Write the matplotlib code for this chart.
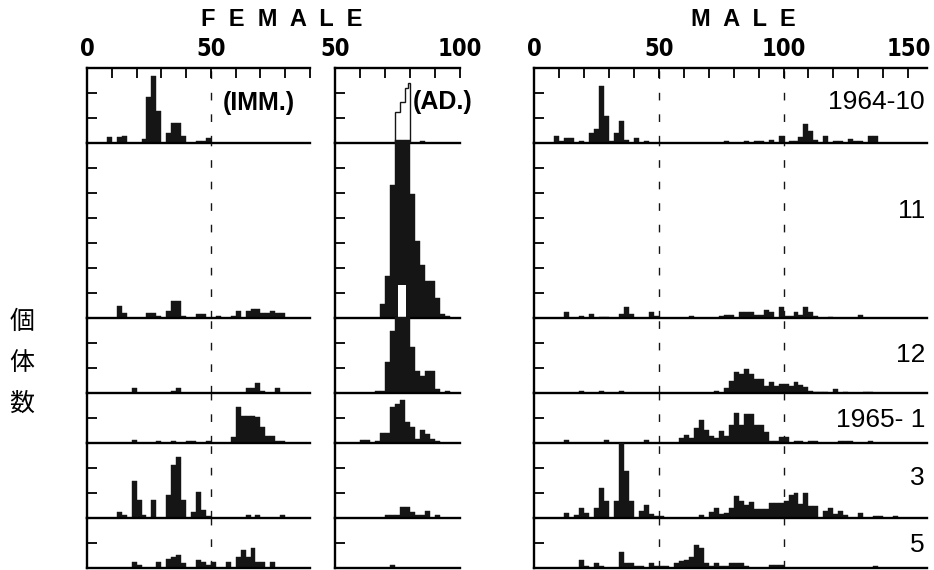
import matplotlib
matplotlib.use("Agg")
import matplotlib.pyplot as plt

# size classes: (left edge of 2-unit bin, number of individuals)
months = ["1964-10", "11", "12", "1965- 1", "3", "5"]
row_max = [12, 28, 12, 8, 12, 8]

imm_oct = [(8, 0.9), (12, 0.9), (14, 1.2), (22, 0.7), (24, 7.4), (26, 10.7), (28, 5.2),
           (32, 1.6), (34, 3.2), (36, 3.2), (38, 1.2), (44, 0.4), (46, 0.4), (48, 0.8)]
imm_nov = [(12, 2.0), (14, 0.8), (24, 0.8), (26, 0.8), (28, 0.4), (32, 1.1), (34, 2.7),
           (36, 2.7), (38, 0.4), (44, 0.7), (46, 0.7), (52, 0.4), (58, 0.4), (60, 1.1),
           (64, 1.1), (66, 1.5), (68, 1.5), (70, 0.8), (72, 0.8), (74, 1.2), (76, 0.8), (78, 0.8)]
imm_dec = [(18, 0.8), (34, 0.3), (36, 0.8), (64, 0.8), (66, 0.8), (68, 1.6), (70, 0.3), (76, 0.8)]
imm_jan = [(18, 0.5), (28, 0.4), (34, 0.4), (40, 0.4), (42, 0.4), (48, 0.4), (58, 0.9),
           (60, 5.7), (62, 4.4), (64, 4.3), (66, 4.3), (68, 4.2), (70, 2.5), (72, 1.2),
           (74, 1.2), (76, 0.4), (78, 0.4)]
imm_mar = [(12, 1.0), (14, 0.5), (18, 5.9), (20, 2.9), (22, 0.5), (26, 2.9), (32, 3.7),
           (34, 8.5), (36, 9.7), (38, 2.9), (42, 0.9), (44, 4.1), (46, 1.3), (48, 0.4),
           (64, 0.5), (68, 0.5), (78, 0.5)]
imm_may = [(18, 1.0), (20, 0.5), (28, 1.0), (32, 1.4), (34, 1.7), (36, 2.1), (38, 0.8),
           (44, 1.3), (46, 1.0), (48, 0.5), (50, 0.9), (56, 0.9), (60, 1.7), (62, 2.9),
           (64, 1.8), (66, 3.2), (68, 0.9), (70, 0.9), (74, 0.9)]

ad_oct = [(84, 0.4)]
ad_oct_open_edges = [74, 76, 78, 79, 80]
ad_oct_open = [4.9, 6.6, 8.8, 9.6]
ad_nov = [(68, 2.2), (70, 6.7), (72, 21.3), (74, 28.5), (76, 28.5), (78, 28.5), (80, 19.8),
          (82, 12.4), (84, 8.5), (86, 5.9), (88, 5.9), (90, 3.2), (92, 0.7), (94, 0.3)]
ad_nov_gap = [(75.2, 3.0, 5.3)]  # blank notch in the printed bar (left, width, height)
ad_dec = [(66, 0.3), (68, 0.3), (70, 4.9), (72, 9.9), (74, 12.2), (76, 12.2), (78, 12.2),
          (80, 7.3), (82, 3.5), (84, 2.7), (86, 3.5), (88, 3.5), (90, 0.7), (94, 0.4)]
ad_jan = [(60, 0.5), (62, 0.5), (66, 0.4), (68, 1.6), (70, 1.6), (72, 5.8), (74, 6.2),
          (76, 6.9), (78, 3.3), (80, 2.5), (82, 0.7), (84, 2.1), (86, 1.4), (88, 0.7), (90, 0.3)]
ad_mar = [(70, 0.5), (72, 0.5), (74, 0.5), (76, 1.7), (78, 1.7), (80, 0.9), (82, 0.5),
          (84, 0.5), (86, 1.1), (90, 0.5)]
ad_may = [(72, 0.5)]

male_oct = [(8, 1.1), (10, 0.4), (12, 0.8), (14, 0.8), (18, 0.3), (22, 1.6), (24, 2.3),
            (26, 9.1), (28, 4.3), (30, 0.4), (32, 1.6), (34, 3.5), (36, 0.5), (40, 0.8),
            (44, 0.3), (76, 0.3), (84, 0.3), (88, 0.4), (90, 0.4), (94, 0.5), (98, 1.1),
            (102, 0.4), (104, 0.4), (106, 1.0), (108, 3.1), (110, 1.9), (112, 0.5), (116, 1.1),
            (120, 0.3), (122, 0.3), (126, 0.6), (128, 0.4), (130, 0.4), (134, 1.1), (136, 1.1)]
male_nov = [(12, 1.0), (18, 0.3), (22, 0.6), (26, 0.2), (28, 0.2), (34, 0.6), (36, 1.8),
            (38, 0.6), (46, 1.0), (48, 0.4), (62, 0.3), (74, 0.3), (76, 0.5), (78, 0.5),
            (82, 1.0), (84, 1.0), (86, 1.0), (88, 0.5), (90, 0.5), (92, 1.3), (94, 1.0),
            (98, 1.8), (100, 0.4), (102, 0.4), (104, 1.0), (106, 0.5), (108, 1.8), (110, 1.0),
            (112, 0.4), (118, 0.2), (130, 0.5)]
male_dec = [(18, 0.3), (26, 0.3), (34, 0.3), (72, 0.3), (76, 0.8), (78, 1.9), (80, 3.4),
            (82, 3.0), (84, 3.8), (86, 3.1), (88, 2.2), (90, 2.2), (92, 1.2), (94, 1.8),
            (96, 1.1), (98, 1.4), (100, 1.5), (102, 1.1), (104, 1.8), (106, 1.3), (108, 1.0),
            (110, 0.3), (112, 0.2), (114, 0.2), (116, 0.2), (120, 0.6), (124, 0.2),
            (132, 0.2), (134, 0.2)]
male_jan = [(12, 0.5), (28, 0.5), (44, 0.5), (58, 0.8), (60, 1.3), (62, 0.8), (64, 2.4),
            (66, 3.7), (68, 2.1), (70, 1.2), (72, 0.8), (74, 2.0), (76, 1.2), (78, 2.9),
            (80, 4.8), (82, 2.9), (84, 4.7), (86, 4.7), (88, 2.9), (90, 2.9), (92, 1.7),
            (94, 0.4), (96, 0.4), (98, 0.9), (100, 0.9), (104, 0.4), (106, 0.4), (110, 0.4),
            (112, 0.4), (122, 0.4), (124, 0.4), (126, 0.4), (134, 0.4)]
male_mar = [(12, 0.8), (16, 0.5), (18, 1.6), (20, 0.8), (24, 1.6), (26, 4.8), (28, 2.8),
            (32, 2.8), (34, 12.0), (36, 7.6), (38, 2.8), (42, 1.2), (44, 2.1), (46, 0.6),
            (48, 0.4), (50, 0.4), (66, 0.5), (70, 0.9), (72, 1.6), (74, 0.6), (76, 0.8),
            (78, 1.6), (80, 3.6), (82, 2.7), (84, 2.1), (86, 2.5), (88, 1.4), (90, 1.5),
            (92, 1.5), (94, 2.4), (96, 2.4), (98, 2.4), (100, 2.8), (102, 3.7), (104, 4.0),
            (106, 2.2), (108, 4.0), (110, 2.0), (112, 2.0), (116, 1.1), (118, 1.6), (120, 0.6),
            (122, 1.2), (124, 0.5), (130, 0.8), (136, 0.4), (138, 0.4), (144, 0.4)]
male_may = [(18, 1.3), (20, 0.4), (24, 0.8), (26, 0.4), (34, 2.5), (36, 0.8), (38, 0.8),
            (40, 0.4), (42, 0.4), (46, 0.8), (48, 0.4), (50, 0.4), (52, 0.4), (56, 0.8),
            (58, 1.2), (60, 1.3), (62, 1.7), (64, 3.7), (66, 3.2), (68, 0.8), (70, 0.4),
            (72, 0.8), (74, 0.4), (76, 0.4), (78, 0.8), (80, 0.8), (82, 0.8), (84, 0.4),
            (94, 0.5), (96, 0.5), (98, 0.5), (136, 0.4)]

imm_rows = [imm_oct, imm_nov, imm_dec, imm_jan, imm_mar, imm_may]
ad_rows = [ad_oct, ad_nov, ad_dec, ad_jan, ad_mar, ad_may]
male_rows = [male_oct, male_nov, male_dec, male_jan, male_mar, male_may]

W, H = 934, 570
BIN = 2
INK = "#151515"
SANS = ["Liberation Sans", "DejaVu Sans"]


def px_box(x0, x1, y_top, y_bot):
    return [x0 / W, 1 - y_bot / H, (x1 - x0) / W, (y_bot - y_top) / H]


def draw_bars(ax, data):
    if not data:
        return
    lefts = [d[0] for d in data]
    heights = [d[1] for d in data]
    ax.bar(lefts, heights, width=BIN, align="edge", color=INK,
           edgecolor=INK, linewidth=0.3, clip_on=False, zorder=2)


fig = plt.figure(figsize=(W / 100, H / 100), dpi=100)

# panel columns in pixels: (left, right, xlim, labelled ticks, dashed guides)
columns = [
    (87, 310, (0, 90), [0, 50], [50], imm_rows),
    (335, 460, (50, 100), [50, 100], [], ad_rows),
    (534, 927, (0, 157.5), [0, 50, 100, 150], [50, 100], male_rows),
]
px_per_unit = 6.25
top = 68

y = top
row_edges = []
for m in row_max:
    row_edges.append((y, y + m * px_per_unit))
    y += m * px_per_unit

axes = {}
for c, (x0, x1, xlim, majors, guides, rows) in enumerate(columns):
    for r, (yt, yb) in enumerate(row_edges):
        ax = fig.add_axes(px_box(x0, x1, yt, yb))
        ax.patch.set_alpha(0)
        ax.set_xlim(*xlim)
        ax.set_ylim(0, row_max[r])
        ax.spines["right"].set_visible(False)
        ax.spines["top"].set_visible(r == 0)
        for s in ("left", "bottom", "top"):
            ax.spines[s].set_linewidth(1.7)
        ax.set_yticks(range(4, row_max[r], 4))
        ax.tick_params(axis="y", direction="in", length=7, width=1.3, labelleft=False)
        if r == 0:
            ax.xaxis.set_ticks_position("top")
            ax.set_xticks(majors)
            ax.set_xticks(range(int(xlim[0]) + 10, int(xlim[1]) + 1, 10), minor=True)
            ax.tick_params(axis="x", which="both", direction="in", length=7, width=1.3,
                           top=True, bottom=False, labeltop=True, labelbottom=False, pad=5)
            ax.set_xticklabels([str(v) for v in majors], fontsize=17, fontweight="bold",
                               family="DejaVu Sans", fontstretch="condensed")
        else:
            ax.set_xticks([])
        for g in guides:
            ax.axvline(g, color=INK, linewidth=1.0, linestyle=(0, (5.5, 10)), zorder=1)
        draw_bars(ax, rows[r])
        axes[(c, r)] = ax

# open outline histogram for adults in 1964-10
axes[(1, 0)].stairs(ad_oct_open, ad_oct_open_edges, fill=False, color=INK,
                    linewidth=1.0, baseline=0, zorder=3)
# unprinted notch in the 11 adult peak
for left, width, h in ad_nov_gap:
    axes[(1, 1)].bar(left, h, width=width, align="edge", color="white",
                     linewidth=0, zorder=3)

axes[(0, 0)].text(0.61, 0.53, "(IMM.)", transform=axes[(0, 0)].transAxes,
                  fontsize=18, fontweight="bold", va="center", ha="left", family=SANS)
axes[(1, 0)].text(0.62, 0.55, "(AD.)", transform=axes[(1, 0)].transAxes,
                  fontsize=18, fontweight="bold", va="center", ha="left", family=SANS)

label_y = [0.55, 0.61, 0.51, 0.46, 0.53, 0.46]
for r, name in enumerate(months):
    axes[(2, r)].text(0.995, label_y[r], name, transform=axes[(2, r)].transAxes,
                      fontsize=19, ha="right", va="center", family=SANS)

fig.text(282 / W, 1 - 20 / H, "F  E  M  A  L  E", fontsize=17, fontweight="bold",
         ha="center", va="center", family=SANS)
fig.text(743 / W, 1 - 20 / H, "M  A  L  E", fontsize=17, fontweight="bold",
         ha="center", va="center", family=SANS)

fig.text(22 / W, 1 - 363 / H, "個\n体\n数", fontsize=18, ha="center", va="center",
         linespacing=1.75, family=["Noto Sans CJK JP", "DejaVu Sans"])

fig.savefig("out.png", dpi=100)
plt.close(fig)
print("Saved: out.png")
